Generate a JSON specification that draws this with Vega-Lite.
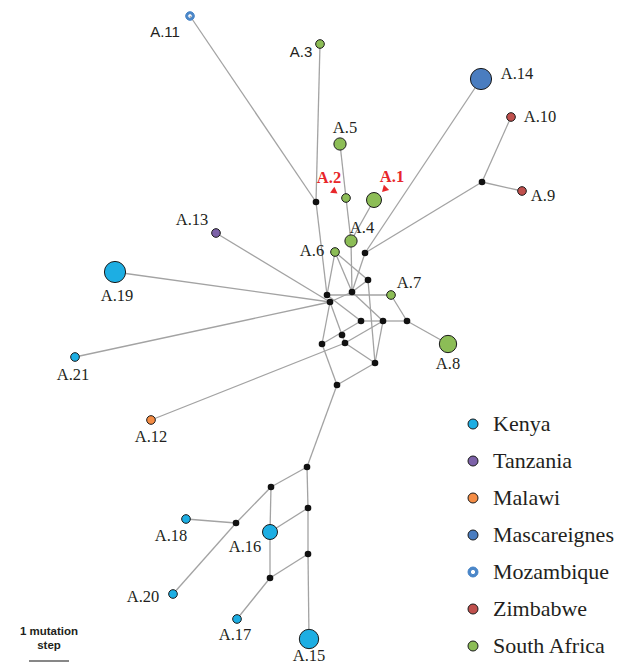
{
  "$schema": "https://vega.github.io/schema/vega-lite/v6.json",
  "width": 621,
  "height": 665,
  "padding": 0,
  "autosize": {"type": "none"},
  "background": "white",
  "config": {"view": {"stroke": null}},
  "datasets": {
    "nodes": [
      {"id": "A.1", "kind": "haplotype", "country": "South Africa", "n": 3, "x": 374, "y": 200, "lx": 392, "ly": 177, "edges": [7]},
      {"id": "A.2", "kind": "haplotype", "country": "South Africa", "n": 1, "x": 346, "y": 198, "lx": 329, "ly": 178, "edges": [4, 5]},
      {"id": "A.3", "kind": "haplotype", "country": "South Africa", "n": 1, "x": 320, "y": 44, "lx": 301, "ly": 52, "edges": [2]},
      {"id": "A.4", "kind": "haplotype", "country": "South Africa", "n": 2, "x": 351, "y": 241, "lx": 362, "ly": 228, "edges": [5, 6, 7]},
      {"id": "A.5", "kind": "haplotype", "country": "South Africa", "n": 2, "x": 340, "y": 144, "lx": 345, "ly": 128, "edges": [4]},
      {"id": "A.6", "kind": "haplotype", "country": "South Africa", "n": 1, "x": 335, "y": 252, "lx": 312, "ly": 251, "edges": [8, 9, 10]},
      {"id": "A.7", "kind": "haplotype", "country": "South Africa", "n": 1, "x": 391, "y": 295, "lx": 409, "ly": 283, "edges": [18, 29]},
      {"id": "A.8", "kind": "haplotype", "country": "South Africa", "n": 4, "x": 448, "y": 344, "lx": 448, "ly": 364, "edges": [30]},
      {"id": "A.9", "kind": "haplotype", "country": "Zimbabwe", "n": 1, "x": 522, "y": 191, "lx": 543, "ly": 196, "edges": [14]},
      {"id": "A.10", "kind": "haplotype", "country": "Zimbabwe", "n": 1, "x": 511, "y": 117, "lx": 540, "ly": 117, "edges": [13]},
      {"id": "A.11", "kind": "haplotype", "country": "Mozambique", "n": 1, "x": 190, "y": 16, "lx": 165, "ly": 32, "edges": [1]},
      {"id": "A.12", "kind": "haplotype", "country": "Malawi", "n": 1, "x": 151, "y": 420, "lx": 151, "ly": 437, "edges": [38]},
      {"id": "A.13", "kind": "haplotype", "country": "Tanzania", "n": 1, "x": 216, "y": 233, "lx": 192, "ly": 220, "edges": [20]},
      {"id": "A.14", "kind": "haplotype", "country": "Mascareignes", "n": 6, "x": 481, "y": 79, "lx": 517, "ly": 74, "edges": [11]},
      {"id": "A.15", "kind": "haplotype", "country": "Kenya", "n": 5, "x": 309, "y": 639, "lx": 309, "ly": 656, "edges": [48]},
      {"id": "A.16", "kind": "haplotype", "country": "Kenya", "n": 3, "x": 270, "y": 532, "lx": 245, "ly": 547, "edges": [42, 46, 49]},
      {"id": "A.17", "kind": "haplotype", "country": "Kenya", "n": 1, "x": 237, "y": 619, "lx": 235, "ly": 635, "edges": [51]},
      {"id": "A.18", "kind": "haplotype", "country": "Kenya", "n": 1, "x": 186, "y": 519, "lx": 171, "ly": 536, "edges": [44]},
      {"id": "A.19", "kind": "haplotype", "country": "Kenya", "n": 6, "x": 115, "y": 272, "lx": 117, "ly": 296, "edges": [21]},
      {"id": "A.20", "kind": "haplotype", "country": "Kenya", "n": 1, "x": 173, "y": 594, "lx": 143, "ly": 597, "edges": [45]},
      {"id": "A.21", "kind": "haplotype", "country": "Kenya", "n": 1, "x": 75, "y": 357, "lx": 73, "ly": 375, "edges": [22]},
      {"id": "mv1", "kind": "median", "x": 316, "y": 202, "edges": [1, 2, 3]},
      {"id": "mv2", "kind": "median", "x": 365, "y": 253, "edges": [11, 12, 15]},
      {"id": "mv3", "kind": "median", "x": 482, "y": 182, "edges": [12, 13, 14]},
      {"id": "mv4", "kind": "median", "x": 368, "y": 280, "edges": [10, 16, 17]},
      {"id": "mv5", "kind": "median", "x": 352, "y": 292, "edges": [6, 9, 15, 16, 19, 26]},
      {"id": "mv6", "kind": "median", "x": 327, "y": 295, "edges": [3, 8, 18, 25]},
      {"id": "mv7", "kind": "median", "x": 330, "y": 302, "edges": [19, 20, 21, 22, 23, 24]},
      {"id": "mv8", "kind": "median", "x": 361, "y": 321, "edges": [25, 27, 33]},
      {"id": "mv9", "kind": "median", "x": 383, "y": 321, "edges": [26, 27, 28, 31, 32]},
      {"id": "mv10", "kind": "median", "x": 407, "y": 321, "edges": [28, 29, 30]},
      {"id": "mv11", "kind": "median", "x": 342, "y": 335, "edges": [23, 36]},
      {"id": "mv12", "kind": "median", "x": 322, "y": 344, "edges": [24, 33, 34]},
      {"id": "mv13", "kind": "median", "x": 345, "y": 343, "edges": [32, 36, 37, 38]},
      {"id": "mv14", "kind": "median", "x": 375, "y": 363, "edges": [17, 31, 35, 37]},
      {"id": "mv15", "kind": "median", "x": 337, "y": 385, "edges": [34, 35, 39]},
      {"id": "mv16", "kind": "median", "x": 307, "y": 467, "edges": [39, 40, 41]},
      {"id": "mv17", "kind": "median", "x": 271, "y": 487, "edges": [40, 42, 43]},
      {"id": "mv18", "kind": "median", "x": 308, "y": 508, "edges": [41, 46, 47]},
      {"id": "mv19", "kind": "median", "x": 236, "y": 523, "edges": [43, 44, 45]},
      {"id": "mv20", "kind": "median", "x": 308, "y": 554, "edges": [47, 48, 50]},
      {"id": "mv21", "kind": "median", "x": 270, "y": 578, "edges": [49, 50, 51]}
    ]
  },
  "layer": [
    {
      "data": {"name": "nodes"},
      "transform": [{"flatten": ["edges"], "as": ["edge"]}],
      "mark": {"type": "line", "color": "#a3a3a3", "strokeWidth": 1.3},
      "encoding": {
        "x": {"field": "x", "type": "quantitative", "scale": {"domain": [0, 621], "nice": false, "zero": false}, "axis": null},
        "y": {"field": "y", "type": "quantitative", "scale": {"domain": [0, 665], "nice": false, "zero": false, "reverse": true}, "axis": null},
        "detail": {"field": "edge", "type": "nominal"}
      }
    },
    {
      "data": {"name": "nodes"},
      "transform": [{"filter": "datum.kind === 'median'"}],
      "mark": {"type": "circle", "color": "#111111", "size": 44, "opacity": 1},
      "encoding": {
        "x": {"field": "x", "type": "quantitative"},
        "y": {"field": "y", "type": "quantitative"}
      }
    },
    {
      "data": {"name": "nodes"},
      "transform": [{"filter": "datum.kind === 'haplotype'"}],
      "mark": {"type": "point", "filled": true, "opacity": 1, "strokeWidth": 1},
      "encoding": {
        "x": {"field": "x", "type": "quantitative"},
        "y": {"field": "y", "type": "quantitative"},
        "size": {"field": "n", "type": "quantitative", "scale": {"domain": [0, 6], "range": [0, 450]}, "legend": null},
        "fill": {
          "field": "country", "type": "nominal",
          "scale": {
            "domain": ["Kenya", "Tanzania", "Malawi", "Mascareignes", "Mozambique", "Zimbabwe", "South Africa"],
            "range": ["#1daee3", "#7c61a8", "#f58d45", "#4a7dc0", "#4a86c8", "#c0504d", "#8cbd56"]
          },
          "legend": {
            "title": null, "orient": "none", "legendX": 462, "legendY": 413,
            "symbolSize": 100, "symbolStrokeWidth": 1,
            "labelFont": "Liberation Serif", "labelFontSize": 22, "labelColor": "#231f20",
            "labelOffset": 9, "rowPadding": 15
          }
        },
        "stroke": {
          "field": "country", "type": "nominal",
          "scale": {
            "domain": ["Kenya", "Tanzania", "Malawi", "Mascareignes", "Mozambique", "Zimbabwe", "South Africa"],
            "range": ["#1a1a1a", "#1a1a1a", "#1a1a1a", "#1a1a1a", "#4a86c8", "#1a1a1a", "#1a1a1a"]
          },
          "legend": {
            "title": null, "orient": "none", "legendX": 462, "legendY": 413,
            "symbolSize": 100, "symbolStrokeWidth": 1,
            "labelFont": "Liberation Serif", "labelFontSize": 22, "labelColor": "#231f20",
            "labelOffset": 9, "rowPadding": 15
          }
        },
        "shape": {
          "field": "country", "type": "nominal",
          "scale": {
            "domain": ["Kenya", "Tanzania", "Malawi", "Mascareignes", "Mozambique", "Zimbabwe", "South Africa"],
            "range": ["circle", "circle", "circle", "circle", "M -1 0 A 1 1 0 1 0 1 0 A 1 1 0 1 0 -1 0 Z M -0.52 0 A 0.52 0.52 0 1 1 0.52 0 A 0.52 0.52 0 1 1 -0.52 0 Z", "circle", "circle"]
          },
          "legend": {
            "title": null, "orient": "none", "legendX": 462, "legendY": 413,
            "symbolSize": 100, "symbolStrokeWidth": 1,
            "labelFont": "Liberation Serif", "labelFontSize": 22, "labelColor": "#231f20",
            "labelOffset": 9, "rowPadding": 15
          }
        }
      }
    },
    {
      "data": {"name": "nodes"},
      "transform": [
        {"filter": "datum.kind === 'haplotype'"},
        {"filter": {"not": {"field": "id", "oneOf": ["A.1", "A.2", "A.3", "A.11"]}}}
      ],
      "mark": {"type": "text", "font": "Liberation Serif", "fontSize": 16.5, "color": "#231f20", "align": "center", "baseline": "middle"},
      "encoding": {
        "x": {"field": "lx", "type": "quantitative"},
        "y": {"field": "ly", "type": "quantitative"},
        "text": {"field": "id"}
      }
    },
    {
      "data": {"name": "nodes"},
      "transform": [{"filter": {"field": "id", "oneOf": ["A.3", "A.11"]}}],
      "mark": {"type": "text", "font": "Liberation Sans", "fontSize": 15, "color": "#231f20", "align": "center", "baseline": "middle"},
      "encoding": {
        "x": {"field": "lx", "type": "quantitative"},
        "y": {"field": "ly", "type": "quantitative"},
        "text": {"field": "id"}
      }
    },
    {
      "data": {"name": "nodes"},
      "transform": [{"filter": {"field": "id", "oneOf": ["A.1", "A.2"]}}],
      "mark": {"type": "text", "font": "Liberation Serif", "fontSize": 16.5, "fontWeight": "bold", "color": "#e8262a", "align": "center", "baseline": "middle"},
      "encoding": {
        "x": {"field": "lx", "type": "quantitative"},
        "y": {"field": "ly", "type": "quantitative"},
        "text": {"field": "id"}
      }
    },
    {
      "data": {"values": [{"id": "A.1", "x": 385, "y": 189}]},
      "mark": {"type": "point", "shape": "triangle", "filled": true, "color": "#e8262a", "size": 55, "angle": 225, "opacity": 1},
      "encoding": {
        "x": {"field": "x", "type": "quantitative"},
        "y": {"field": "y", "type": "quantitative"}
      }
    },
    {
      "data": {"values": [{"id": "A.2", "x": 334, "y": 191}]},
      "mark": {"type": "point", "shape": "triangle", "filled": true, "color": "#e8262a", "size": 55, "angle": 125, "opacity": 1},
      "encoding": {
        "x": {"field": "x", "type": "quantitative"},
        "y": {"field": "y", "type": "quantitative"}
      }
    },
    {
      "data": {"values": [{"x": 29, "x2": 69, "y": 661}]},
      "mark": {"type": "rule", "color": "#111111", "strokeWidth": 1.2},
      "encoding": {
        "x": {"field": "x", "type": "quantitative"},
        "x2": {"field": "x2"},
        "y": {"field": "y", "type": "quantitative"}
      }
    },
    {
      "data": {"values": [{"x": 49, "y": 632}]},
      "mark": {"type": "text", "text": ["1 mutation", "step"], "font": "Liberation Sans", "fontSize": 11.5, "fontWeight": "bold", "color": "#231f20", "align": "center", "baseline": "middle", "lineHeight": 14},
      "encoding": {
        "x": {"field": "x", "type": "quantitative"},
        "y": {"field": "y", "type": "quantitative"}
      }
    }
  ]
}
